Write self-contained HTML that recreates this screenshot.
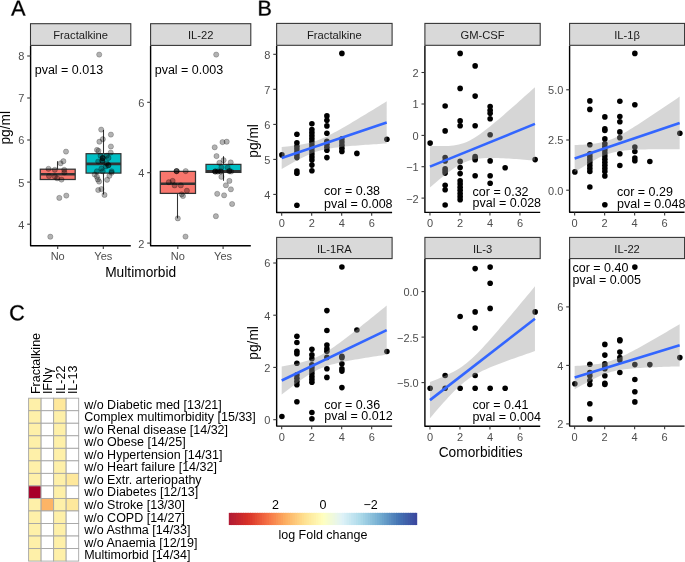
<!DOCTYPE html>
<html><head><meta charset="utf-8"><style>
html,body{margin:0;padding:0;background:#fff;width:685px;height:562px;overflow:hidden;}
svg{display:block;font-family:"Liberation Sans", sans-serif;will-change:transform;}
</style></head><body>
<svg width="685" height="562" viewBox="0 0 685 562" font-family='"Liberation Sans", sans-serif'>
<path d="M23.4 15.5 21.71 11.17H14.97L13.27 15.5H11.19L17.23 0.71H19.51L25.45 15.5ZM18.34 2.22 18.25 2.51Q17.98 3.39 17.47 4.75L15.58 9.61H21.11L19.21 4.73Q18.92 4 18.62 3.09Z" fill="#000" stroke="#000" stroke-width="0.35"/>
<path d="M270.71 11.33Q270.71 13.31 269.27 14.4Q267.83 15.5 265.27 15.5H259.26V0.71H264.64Q269.85 0.71 269.85 4.3Q269.85 5.61 269.11 6.5Q268.38 7.4 267.03 7.7Q268.8 7.91 269.75 8.88Q270.71 9.85 270.71 11.33ZM267.83 4.54Q267.83 3.34 267.01 2.83Q266.19 2.31 264.64 2.31H261.27V7H264.64Q266.24 7 267.04 6.39Q267.83 5.79 267.83 4.54ZM268.68 11.17Q268.68 8.56 265.01 8.56H261.27V13.89H265.16Q267 13.89 267.84 13.21Q268.68 12.53 268.68 11.17Z" fill="#000" stroke="#000" stroke-width="0.35"/>
<path d="M17.51 306.83Q15.06 306.83 13.69 308.41Q12.33 309.99 12.33 312.74Q12.33 315.45 13.75 317.11Q15.17 318.76 17.6 318.76Q20.71 318.76 22.27 315.69L23.91 316.5Q22.99 318.42 21.34 319.41Q19.69 320.41 17.5 320.41Q15.27 320.41 13.64 319.48Q12 318.55 11.15 316.82Q10.29 315.1 10.29 312.74Q10.29 309.2 12.2 307.19Q14.11 305.19 17.49 305.19Q19.86 305.19 21.44 306.11Q23.03 307.04 23.77 308.85L21.87 309.48Q21.36 308.19 20.22 307.51Q19.08 306.83 17.51 306.83Z" fill="#000" stroke="#000" stroke-width="0.35"/>
<rect x="30.5" y="23.7" width="100.3" height="21.7" fill="#d9d9d9" stroke="#333" stroke-width="1.07"/>
<text x="80.65" y="39.2" font-size="11.2" fill="#1a1a1a" text-anchor="middle">Fractalkine</text>
<line x1="57.5" y1="161.2" x2="57.5" y2="169.2" stroke="#333" stroke-width="1.07"/>
<rect x="40.3" y="169.2" width="34.9" height="10.3" fill="#F8766D" stroke="#333" stroke-width="1.25"/>
<line x1="40.3" y1="174.2" x2="75.2" y2="174.2" stroke="#333" stroke-width="2.6"/>
<line x1="103.5" y1="129.9" x2="103.5" y2="153.7" stroke="#333" stroke-width="1.07"/>
<line x1="103.5" y1="173.1" x2="103.5" y2="194.5" stroke="#333" stroke-width="1.07"/>
<rect x="86.1" y="153.7" width="34.8" height="19.4" fill="#00BFC4" stroke="#333" stroke-width="1.25"/>
<line x1="86.1" y1="163.9" x2="120.9" y2="163.9" stroke="#333" stroke-width="2.6"/>
<circle cx="66" cy="151.6" r="2.6" fill="rgba(0,0,0,0.3)" stroke="rgba(0,0,0,0.3)" stroke-width="0.75"/>
<circle cx="63.4" cy="161.2" r="2.6" fill="rgba(0,0,0,0.3)" stroke="rgba(0,0,0,0.3)" stroke-width="0.75"/>
<circle cx="60.6" cy="163.3" r="2.6" fill="rgba(0,0,0,0.3)" stroke="rgba(0,0,0,0.3)" stroke-width="0.75"/>
<circle cx="48.5" cy="168.8" r="2.6" fill="rgba(0,0,0,0.3)" stroke="rgba(0,0,0,0.3)" stroke-width="0.75"/>
<circle cx="54.8" cy="169.8" r="2.6" fill="rgba(0,0,0,0.3)" stroke="rgba(0,0,0,0.3)" stroke-width="0.75"/>
<circle cx="64.2" cy="169.8" r="2.6" fill="rgba(0,0,0,0.3)" stroke="rgba(0,0,0,0.3)" stroke-width="0.75"/>
<circle cx="64.4" cy="172.5" r="2.6" fill="rgba(0,0,0,0.3)" stroke="rgba(0,0,0,0.3)" stroke-width="0.75"/>
<circle cx="49" cy="176" r="2.6" fill="rgba(0,0,0,0.3)" stroke="rgba(0,0,0,0.3)" stroke-width="0.75"/>
<circle cx="54.8" cy="176.5" r="2.6" fill="rgba(0,0,0,0.3)" stroke="rgba(0,0,0,0.3)" stroke-width="0.75"/>
<circle cx="57.2" cy="178.3" r="2.6" fill="rgba(0,0,0,0.3)" stroke="rgba(0,0,0,0.3)" stroke-width="0.75"/>
<circle cx="61.5" cy="179.6" r="2.6" fill="rgba(0,0,0,0.3)" stroke="rgba(0,0,0,0.3)" stroke-width="0.75"/>
<circle cx="59.3" cy="197.9" r="2.6" fill="rgba(0,0,0,0.3)" stroke="rgba(0,0,0,0.3)" stroke-width="0.75"/>
<circle cx="66.3" cy="195.6" r="2.6" fill="rgba(0,0,0,0.3)" stroke="rgba(0,0,0,0.3)" stroke-width="0.75"/>
<circle cx="50.3" cy="236.7" r="2.6" fill="rgba(0,0,0,0.3)" stroke="rgba(0,0,0,0.3)" stroke-width="0.75"/>
<circle cx="99.2" cy="54.6" r="2.6" fill="rgba(0,0,0,0.3)" stroke="rgba(0,0,0,0.3)" stroke-width="0.75"/>
<circle cx="101.2" cy="129.6" r="2.6" fill="rgba(0,0,0,0.3)" stroke="rgba(0,0,0,0.3)" stroke-width="0.75"/>
<circle cx="110.9" cy="134.6" r="2.6" fill="rgba(0,0,0,0.3)" stroke="rgba(0,0,0,0.3)" stroke-width="0.75"/>
<circle cx="102.8" cy="139.2" r="2.6" fill="rgba(0,0,0,0.3)" stroke="rgba(0,0,0,0.3)" stroke-width="0.75"/>
<circle cx="99.4" cy="141.7" r="2.6" fill="rgba(0,0,0,0.3)" stroke="rgba(0,0,0,0.3)" stroke-width="0.75"/>
<circle cx="110.9" cy="146.5" r="2.6" fill="rgba(0,0,0,0.3)" stroke="rgba(0,0,0,0.3)" stroke-width="0.75"/>
<circle cx="97" cy="149.9" r="2.6" fill="rgba(0,0,0,0.3)" stroke="rgba(0,0,0,0.3)" stroke-width="0.75"/>
<circle cx="98.5" cy="150.8" r="2.6" fill="rgba(0,0,0,0.3)" stroke="rgba(0,0,0,0.3)" stroke-width="0.75"/>
<circle cx="110.7" cy="152.6" r="2.6" fill="rgba(0,0,0,0.3)" stroke="rgba(0,0,0,0.3)" stroke-width="0.75"/>
<circle cx="102.7" cy="157.9" r="2.6" fill="rgba(0,0,0,0.3)" stroke="rgba(0,0,0,0.3)" stroke-width="0.75"/>
<circle cx="102.7" cy="157.9" r="2.6" fill="rgba(0,0,0,0.3)" stroke="rgba(0,0,0,0.3)" stroke-width="0.75"/>
<circle cx="102.9" cy="158.3" r="2.6" fill="rgba(0,0,0,0.3)" stroke="rgba(0,0,0,0.3)" stroke-width="0.75"/>
<circle cx="100.5" cy="155.7" r="2.6" fill="rgba(0,0,0,0.3)" stroke="rgba(0,0,0,0.3)" stroke-width="0.75"/>
<circle cx="106.7" cy="155.7" r="2.6" fill="rgba(0,0,0,0.3)" stroke="rgba(0,0,0,0.3)" stroke-width="0.75"/>
<circle cx="108.5" cy="157.9" r="2.6" fill="rgba(0,0,0,0.3)" stroke="rgba(0,0,0,0.3)" stroke-width="0.75"/>
<circle cx="98.2" cy="161.5" r="2.6" fill="rgba(0,0,0,0.3)" stroke="rgba(0,0,0,0.3)" stroke-width="0.75"/>
<circle cx="102.2" cy="160.6" r="2.6" fill="rgba(0,0,0,0.3)" stroke="rgba(0,0,0,0.3)" stroke-width="0.75"/>
<circle cx="102.4" cy="161" r="2.6" fill="rgba(0,0,0,0.3)" stroke="rgba(0,0,0,0.3)" stroke-width="0.75"/>
<circle cx="106.7" cy="163.3" r="2.6" fill="rgba(0,0,0,0.3)" stroke="rgba(0,0,0,0.3)" stroke-width="0.75"/>
<circle cx="108.5" cy="165" r="2.6" fill="rgba(0,0,0,0.3)" stroke="rgba(0,0,0,0.3)" stroke-width="0.75"/>
<circle cx="108.3" cy="165.4" r="2.6" fill="rgba(0,0,0,0.3)" stroke="rgba(0,0,0,0.3)" stroke-width="0.75"/>
<circle cx="105.8" cy="166.4" r="2.6" fill="rgba(0,0,0,0.3)" stroke="rgba(0,0,0,0.3)" stroke-width="0.75"/>
<circle cx="101.4" cy="168.6" r="2.6" fill="rgba(0,0,0,0.3)" stroke="rgba(0,0,0,0.3)" stroke-width="0.75"/>
<circle cx="96.9" cy="171.3" r="2.6" fill="rgba(0,0,0,0.3)" stroke="rgba(0,0,0,0.3)" stroke-width="0.75"/>
<circle cx="111.6" cy="171.3" r="2.6" fill="rgba(0,0,0,0.3)" stroke="rgba(0,0,0,0.3)" stroke-width="0.75"/>
<circle cx="102.7" cy="171.3" r="2.6" fill="rgba(0,0,0,0.3)" stroke="rgba(0,0,0,0.3)" stroke-width="0.75"/>
<circle cx="94.7" cy="174.5" r="2.6" fill="rgba(0,0,0,0.3)" stroke="rgba(0,0,0,0.3)" stroke-width="0.75"/>
<circle cx="96.9" cy="176.7" r="2.6" fill="rgba(0,0,0,0.3)" stroke="rgba(0,0,0,0.3)" stroke-width="0.75"/>
<circle cx="97.8" cy="179.4" r="2.6" fill="rgba(0,0,0,0.3)" stroke="rgba(0,0,0,0.3)" stroke-width="0.75"/>
<circle cx="99.1" cy="181.6" r="2.6" fill="rgba(0,0,0,0.3)" stroke="rgba(0,0,0,0.3)" stroke-width="0.75"/>
<circle cx="111.6" cy="172.7" r="2.6" fill="rgba(0,0,0,0.3)" stroke="rgba(0,0,0,0.3)" stroke-width="0.75"/>
<circle cx="109.4" cy="175.8" r="2.6" fill="rgba(0,0,0,0.3)" stroke="rgba(0,0,0,0.3)" stroke-width="0.75"/>
<circle cx="107.1" cy="179.8" r="2.6" fill="rgba(0,0,0,0.3)" stroke="rgba(0,0,0,0.3)" stroke-width="0.75"/>
<circle cx="98.2" cy="190" r="2.6" fill="rgba(0,0,0,0.3)" stroke="rgba(0,0,0,0.3)" stroke-width="0.75"/>
<circle cx="101.4" cy="189.1" r="2.6" fill="rgba(0,0,0,0.3)" stroke="rgba(0,0,0,0.3)" stroke-width="0.75"/>
<circle cx="104.5" cy="194.9" r="2.6" fill="rgba(0,0,0,0.3)" stroke="rgba(0,0,0,0.3)" stroke-width="0.75"/>
<path d="M30.6 45.9 L30.6 245.8 L130.8 245.8" fill="none" stroke="#000" stroke-width="1.4" stroke-linejoin="round"/>
<line x1="27.2" y1="56" x2="30.6" y2="56" stroke="#333" stroke-width="1.07"/>
<text x="24.4" y="60.4" font-size="11" fill="#4d4d4d" text-anchor="end">8</text>
<line x1="27.2" y1="98" x2="30.6" y2="98" stroke="#333" stroke-width="1.07"/>
<text x="24.4" y="102.4" font-size="11" fill="#4d4d4d" text-anchor="end">7</text>
<line x1="27.2" y1="140" x2="30.6" y2="140" stroke="#333" stroke-width="1.07"/>
<text x="24.4" y="144.4" font-size="11" fill="#4d4d4d" text-anchor="end">6</text>
<line x1="27.2" y1="182.1" x2="30.6" y2="182.1" stroke="#333" stroke-width="1.07"/>
<text x="24.4" y="186.5" font-size="11" fill="#4d4d4d" text-anchor="end">5</text>
<line x1="27.2" y1="224.2" x2="30.6" y2="224.2" stroke="#333" stroke-width="1.07"/>
<text x="24.4" y="228.6" font-size="11" fill="#4d4d4d" text-anchor="end">4</text>
<line x1="57.7" y1="245.8" x2="57.7" y2="249" stroke="#333" stroke-width="1.07"/>
<text x="57.7" y="260.1" font-size="11" fill="#4d4d4d" text-anchor="middle">No</text>
<line x1="103.3" y1="245.8" x2="103.3" y2="249" stroke="#333" stroke-width="1.07"/>
<text x="103.3" y="260.1" font-size="11" fill="#4d4d4d" text-anchor="middle">Yes</text>
<text x="34.7" y="73.5" font-size="12.5" fill="#000" text-anchor="start">pval = 0.013</text>
<rect x="150.6" y="23.7" width="100.2" height="21.7" fill="#d9d9d9" stroke="#333" stroke-width="1.07"/>
<text x="200.7" y="39.2" font-size="11.2" fill="#1a1a1a" text-anchor="middle">IL-22</text>
<line x1="177.5" y1="193.4" x2="177.5" y2="218.4" stroke="#333" stroke-width="1.07"/>
<rect x="160.3" y="171.4" width="35.2" height="22" fill="#F8766D" stroke="#333" stroke-width="1.25"/>
<line x1="160.3" y1="183.8" x2="195.5" y2="183.8" stroke="#333" stroke-width="2.6"/>
<line x1="223.5" y1="156.2" x2="223.5" y2="164.4" stroke="#333" stroke-width="1.07"/>
<line x1="223.5" y1="172.4" x2="223.5" y2="180.8" stroke="#333" stroke-width="1.07"/>
<rect x="206" y="164.4" width="34.9" height="8" fill="#00BFC4" stroke="#333" stroke-width="1.25"/>
<line x1="206" y1="171.3" x2="240.9" y2="171.3" stroke="#333" stroke-width="2.6"/>
<circle cx="176.6" cy="171.1" r="2.6" fill="rgba(0,0,0,0.3)" stroke="rgba(0,0,0,0.3)" stroke-width="0.75"/>
<circle cx="176.6" cy="171.1" r="2.6" fill="rgba(0,0,0,0.3)" stroke="rgba(0,0,0,0.3)" stroke-width="0.75"/>
<circle cx="176.6" cy="171.1" r="2.6" fill="rgba(0,0,0,0.3)" stroke="rgba(0,0,0,0.3)" stroke-width="0.75"/>
<circle cx="185.7" cy="171.1" r="2.6" fill="rgba(0,0,0,0.3)" stroke="rgba(0,0,0,0.3)" stroke-width="0.75"/>
<circle cx="168.8" cy="182.2" r="2.6" fill="rgba(0,0,0,0.3)" stroke="rgba(0,0,0,0.3)" stroke-width="0.75"/>
<circle cx="172.6" cy="180.9" r="2.6" fill="rgba(0,0,0,0.3)" stroke="rgba(0,0,0,0.3)" stroke-width="0.75"/>
<circle cx="174.6" cy="185.4" r="2.6" fill="rgba(0,0,0,0.3)" stroke="rgba(0,0,0,0.3)" stroke-width="0.75"/>
<circle cx="180.8" cy="185.4" r="2.6" fill="rgba(0,0,0,0.3)" stroke="rgba(0,0,0,0.3)" stroke-width="0.75"/>
<circle cx="186.9" cy="190.7" r="2.6" fill="rgba(0,0,0,0.3)" stroke="rgba(0,0,0,0.3)" stroke-width="0.75"/>
<circle cx="181.7" cy="194.3" r="2.6" fill="rgba(0,0,0,0.3)" stroke="rgba(0,0,0,0.3)" stroke-width="0.75"/>
<circle cx="183" cy="196" r="2.6" fill="rgba(0,0,0,0.3)" stroke="rgba(0,0,0,0.3)" stroke-width="0.75"/>
<circle cx="177.8" cy="218.4" r="2.6" fill="rgba(0,0,0,0.3)" stroke="rgba(0,0,0,0.3)" stroke-width="0.75"/>
<circle cx="185.5" cy="236.6" r="2.6" fill="rgba(0,0,0,0.3)" stroke="rgba(0,0,0,0.3)" stroke-width="0.75"/>
<circle cx="216.2" cy="54.6" r="2.6" fill="rgba(0,0,0,0.3)" stroke="rgba(0,0,0,0.3)" stroke-width="0.75"/>
<circle cx="222.5" cy="142.1" r="2.6" fill="rgba(0,0,0,0.3)" stroke="rgba(0,0,0,0.3)" stroke-width="0.75"/>
<circle cx="226.7" cy="141.7" r="2.6" fill="rgba(0,0,0,0.3)" stroke="rgba(0,0,0,0.3)" stroke-width="0.75"/>
<circle cx="214.7" cy="147.3" r="2.6" fill="rgba(0,0,0,0.3)" stroke="rgba(0,0,0,0.3)" stroke-width="0.75"/>
<circle cx="216.5" cy="156.1" r="2.6" fill="rgba(0,0,0,0.3)" stroke="rgba(0,0,0,0.3)" stroke-width="0.75"/>
<circle cx="223.6" cy="160.2" r="2.6" fill="rgba(0,0,0,0.3)" stroke="rgba(0,0,0,0.3)" stroke-width="0.75"/>
<circle cx="219.4" cy="162.8" r="2.6" fill="rgba(0,0,0,0.3)" stroke="rgba(0,0,0,0.3)" stroke-width="0.75"/>
<circle cx="230.7" cy="162.4" r="2.6" fill="rgba(0,0,0,0.3)" stroke="rgba(0,0,0,0.3)" stroke-width="0.75"/>
<circle cx="221.4" cy="167.5" r="2.6" fill="rgba(0,0,0,0.3)" stroke="rgba(0,0,0,0.3)" stroke-width="0.75"/>
<circle cx="227.6" cy="167.5" r="2.6" fill="rgba(0,0,0,0.3)" stroke="rgba(0,0,0,0.3)" stroke-width="0.75"/>
<circle cx="215.2" cy="171.5" r="2.6" fill="rgba(0,0,0,0.3)" stroke="rgba(0,0,0,0.3)" stroke-width="0.75"/>
<circle cx="215.2" cy="171.5" r="2.6" fill="rgba(0,0,0,0.3)" stroke="rgba(0,0,0,0.3)" stroke-width="0.75"/>
<circle cx="215.2" cy="171.5" r="2.6" fill="rgba(0,0,0,0.3)" stroke="rgba(0,0,0,0.3)" stroke-width="0.75"/>
<circle cx="217.8" cy="171.5" r="2.6" fill="rgba(0,0,0,0.3)" stroke="rgba(0,0,0,0.3)" stroke-width="0.75"/>
<circle cx="217.8" cy="171.5" r="2.6" fill="rgba(0,0,0,0.3)" stroke="rgba(0,0,0,0.3)" stroke-width="0.75"/>
<circle cx="220.8" cy="171.5" r="2.6" fill="rgba(0,0,0,0.3)" stroke="rgba(0,0,0,0.3)" stroke-width="0.75"/>
<circle cx="220.8" cy="171.5" r="2.6" fill="rgba(0,0,0,0.3)" stroke="rgba(0,0,0,0.3)" stroke-width="0.75"/>
<circle cx="229.4" cy="171.1" r="2.6" fill="rgba(0,0,0,0.3)" stroke="rgba(0,0,0,0.3)" stroke-width="0.75"/>
<circle cx="229.4" cy="171.1" r="2.6" fill="rgba(0,0,0,0.3)" stroke="rgba(0,0,0,0.3)" stroke-width="0.75"/>
<circle cx="231.2" cy="171.5" r="2.6" fill="rgba(0,0,0,0.3)" stroke="rgba(0,0,0,0.3)" stroke-width="0.75"/>
<circle cx="221.4" cy="176.8" r="2.6" fill="rgba(0,0,0,0.3)" stroke="rgba(0,0,0,0.3)" stroke-width="0.75"/>
<circle cx="229.4" cy="180.9" r="2.6" fill="rgba(0,0,0,0.3)" stroke="rgba(0,0,0,0.3)" stroke-width="0.75"/>
<circle cx="225.9" cy="185.3" r="2.6" fill="rgba(0,0,0,0.3)" stroke="rgba(0,0,0,0.3)" stroke-width="0.75"/>
<circle cx="230.9" cy="189.3" r="2.6" fill="rgba(0,0,0,0.3)" stroke="rgba(0,0,0,0.3)" stroke-width="0.75"/>
<circle cx="217.2" cy="193.8" r="2.6" fill="rgba(0,0,0,0.3)" stroke="rgba(0,0,0,0.3)" stroke-width="0.75"/>
<circle cx="224.1" cy="195.3" r="2.6" fill="rgba(0,0,0,0.3)" stroke="rgba(0,0,0,0.3)" stroke-width="0.75"/>
<circle cx="232.1" cy="204" r="2.6" fill="rgba(0,0,0,0.3)" stroke="rgba(0,0,0,0.3)" stroke-width="0.75"/>
<circle cx="215.9" cy="216.2" r="2.6" fill="rgba(0,0,0,0.3)" stroke="rgba(0,0,0,0.3)" stroke-width="0.75"/>
<path d="M150.6 45.9 L150.6 245.8 L250.8 245.8" fill="none" stroke="#000" stroke-width="1.4" stroke-linejoin="round"/>
<line x1="147.2" y1="102.3" x2="150.6" y2="102.3" stroke="#333" stroke-width="1.07"/>
<text x="144.4" y="106.7" font-size="11" fill="#4d4d4d" text-anchor="end">6</text>
<line x1="147.2" y1="172.7" x2="150.6" y2="172.7" stroke="#333" stroke-width="1.07"/>
<text x="144.4" y="177.1" font-size="11" fill="#4d4d4d" text-anchor="end">4</text>
<line x1="147.2" y1="243.1" x2="150.6" y2="243.1" stroke="#333" stroke-width="1.07"/>
<text x="144.4" y="247.5" font-size="11" fill="#4d4d4d" text-anchor="end">2</text>
<line x1="177.8" y1="245.8" x2="177.8" y2="249" stroke="#333" stroke-width="1.07"/>
<text x="177.8" y="260.1" font-size="11" fill="#4d4d4d" text-anchor="middle">No</text>
<line x1="223.1" y1="245.8" x2="223.1" y2="249" stroke="#333" stroke-width="1.07"/>
<text x="223.1" y="260.1" font-size="11" fill="#4d4d4d" text-anchor="middle">Yes</text>
<text x="154.7" y="73.5" font-size="12.5" fill="#000" text-anchor="start">pval = 0.003</text>
<text x="140.7" y="276.6" font-size="13.75" fill="#000" text-anchor="middle">Multimorbid</text>
<text x="10" y="127.8" font-size="13.75" fill="#000" text-anchor="middle" transform="rotate(-90 10 127.8)">pg/ml</text>
<circle cx="281.9" cy="154.9" r="2.8" fill="#000"/>
<circle cx="296.9" cy="134.2" r="2.8" fill="#000"/>
<circle cx="296.9" cy="142.7" r="2.8" fill="#000"/>
<circle cx="296.9" cy="146.3" r="2.8" fill="#000"/>
<circle cx="296.9" cy="149.12" r="2.8" fill="#000"/>
<circle cx="296.9" cy="151.95" r="2.8" fill="#000"/>
<circle cx="296.9" cy="154.78" r="2.8" fill="#000"/>
<circle cx="296.9" cy="157.6" r="2.8" fill="#000"/>
<circle cx="296.9" cy="171.1" r="2.8" fill="#000"/>
<circle cx="296.9" cy="173.3" r="2.8" fill="#000"/>
<circle cx="296.9" cy="205.3" r="2.8" fill="#000"/>
<circle cx="311.9" cy="123.7" r="2.8" fill="#000"/>
<circle cx="311.9" cy="129.6" r="2.8" fill="#000"/>
<circle cx="311.9" cy="132.65" r="2.8" fill="#000"/>
<circle cx="311.9" cy="135.7" r="2.8" fill="#000"/>
<circle cx="311.9" cy="138.75" r="2.8" fill="#000"/>
<circle cx="311.9" cy="141.8" r="2.8" fill="#000"/>
<circle cx="311.9" cy="144.85" r="2.8" fill="#000"/>
<circle cx="311.9" cy="147.9" r="2.8" fill="#000"/>
<circle cx="311.9" cy="150.95" r="2.8" fill="#000"/>
<circle cx="311.9" cy="154" r="2.8" fill="#000"/>
<circle cx="311.9" cy="157.05" r="2.8" fill="#000"/>
<circle cx="311.9" cy="160.1" r="2.8" fill="#000"/>
<circle cx="311.9" cy="165.1" r="2.8" fill="#000"/>
<circle cx="311.9" cy="170.7" r="2.8" fill="#000"/>
<circle cx="326.9" cy="115.9" r="2.8" fill="#000"/>
<circle cx="326.9" cy="120.3" r="2.8" fill="#000"/>
<circle cx="326.9" cy="125.9" r="2.8" fill="#000"/>
<circle cx="326.9" cy="133.3" r="2.8" fill="#000"/>
<circle cx="326.9" cy="141.3" r="2.8" fill="#000"/>
<circle cx="326.9" cy="144.3" r="2.8" fill="#000"/>
<circle cx="326.9" cy="147.3" r="2.8" fill="#000"/>
<circle cx="326.9" cy="150.3" r="2.8" fill="#000"/>
<circle cx="326.9" cy="157.6" r="2.8" fill="#000"/>
<circle cx="341.9" cy="53.4" r="2.8" fill="#000"/>
<circle cx="341.9" cy="138.9" r="2.8" fill="#000"/>
<circle cx="341.9" cy="142.03" r="2.8" fill="#000"/>
<circle cx="341.9" cy="145.15" r="2.8" fill="#000"/>
<circle cx="341.9" cy="148.28" r="2.8" fill="#000"/>
<circle cx="341.9" cy="151.4" r="2.8" fill="#000"/>
<circle cx="356.9" cy="153.4" r="2.8" fill="#000"/>
<circle cx="386.9" cy="139.3" r="2.8" fill="#000"/>
<path d="M281.7 146.9 L284.32 146.66 L286.95 146.4 L289.57 146.13 L292.2 145.83 L294.82 145.51 L297.45 145.16 L300.07 144.77 L302.7 144.32 L305.32 143.82 L307.95 143.25 L310.57 142.6 L313.2 141.85 L315.82 141 L318.45 140.05 L321.07 139 L323.7 137.86 L326.32 136.63 L328.95 135.34 L331.57 133.99 L334.2 132.6 L336.82 131.16 L339.45 129.7 L342.07 128.21 L344.7 126.7 L347.32 125.17 L349.95 123.63 L352.57 122.08 L355.2 120.52 L357.82 118.95 L360.45 117.37 L363.07 115.78 L365.7 114.19 L368.32 112.6 L370.95 111 L373.57 109.4 L376.2 107.79 L378.82 106.19 L381.45 104.58 L384.07 102.96 L386.7 101.35 L386.7 143.45 L384.07 143.62 L381.45 143.78 L378.82 143.95 L376.2 144.13 L373.57 144.3 L370.95 144.48 L368.32 144.66 L365.7 144.85 L363.07 145.04 L360.45 145.23 L357.82 145.43 L355.2 145.64 L352.57 145.86 L349.95 146.09 L347.32 146.33 L344.7 146.58 L342.07 146.85 L339.45 147.14 L336.82 147.46 L334.2 147.8 L331.57 148.19 L328.95 148.62 L326.32 149.11 L323.7 149.66 L321.07 150.3 L318.45 151.03 L315.82 151.86 L313.2 152.79 L310.57 153.82 L307.95 154.95 L305.32 156.16 L302.7 157.44 L300.07 158.77 L297.45 160.16 L294.82 161.59 L292.2 163.05 L289.57 164.53 L286.95 166.04 L284.32 167.56 L281.7 169.1 Z" fill="#999999" fill-opacity="0.4"/>
<line x1="281.7" y1="158" x2="386.7" y2="122.4" stroke="#3366FF" stroke-width="2.6"/>
<path d="M276.65 45.8 L276.65 212.5 L392.1 212.5" fill="none" stroke="#000" stroke-width="1.4" stroke-linejoin="round"/>
<rect x="276.65" y="23.4" width="115.45" height="21.9" fill="#d9d9d9" stroke="#333" stroke-width="1.07"/>
<text x="334.38" y="38.9" font-size="11.2" fill="#1a1a1a" text-anchor="middle">Fractalkine</text>
<line x1="273.25" y1="54.3" x2="276.65" y2="54.3" stroke="#333" stroke-width="1.07"/>
<text x="270.45" y="58.7" font-size="11" fill="#4d4d4d" text-anchor="end">8</text>
<line x1="273.25" y1="89.3" x2="276.65" y2="89.3" stroke="#333" stroke-width="1.07"/>
<text x="270.45" y="93.7" font-size="11" fill="#4d4d4d" text-anchor="end">7</text>
<line x1="273.25" y1="124.4" x2="276.65" y2="124.4" stroke="#333" stroke-width="1.07"/>
<text x="270.45" y="128.8" font-size="11" fill="#4d4d4d" text-anchor="end">6</text>
<line x1="273.25" y1="159.4" x2="276.65" y2="159.4" stroke="#333" stroke-width="1.07"/>
<text x="270.45" y="163.8" font-size="11" fill="#4d4d4d" text-anchor="end">5</text>
<line x1="273.25" y1="194.4" x2="276.65" y2="194.4" stroke="#333" stroke-width="1.07"/>
<text x="270.45" y="198.8" font-size="11" fill="#4d4d4d" text-anchor="end">4</text>
<line x1="281.7" y1="212.5" x2="281.7" y2="215.7" stroke="#333" stroke-width="1.07"/>
<text x="281.7" y="226.9" font-size="11" fill="#4d4d4d" text-anchor="middle">0</text>
<line x1="311.7" y1="212.5" x2="311.7" y2="215.7" stroke="#333" stroke-width="1.07"/>
<text x="311.7" y="226.9" font-size="11" fill="#4d4d4d" text-anchor="middle">2</text>
<line x1="341.7" y1="212.5" x2="341.7" y2="215.7" stroke="#333" stroke-width="1.07"/>
<text x="341.7" y="226.9" font-size="11" fill="#4d4d4d" text-anchor="middle">4</text>
<line x1="371.7" y1="212.5" x2="371.7" y2="215.7" stroke="#333" stroke-width="1.07"/>
<text x="371.7" y="226.9" font-size="11" fill="#4d4d4d" text-anchor="middle">6</text>
<text x="324.1" y="195.4" font-size="12.5" fill="#000" text-anchor="start">cor = 0.38</text>
<text x="324.1" y="207.5" font-size="12.5" fill="#000" text-anchor="start">pval = 0.008</text>
<circle cx="430.15" cy="143.1" r="2.8" fill="#000"/>
<circle cx="445.15" cy="106" r="2.8" fill="#000"/>
<circle cx="445.15" cy="130.9" r="2.8" fill="#000"/>
<circle cx="445.15" cy="157.6" r="2.8" fill="#000"/>
<circle cx="445.15" cy="160.9" r="2.8" fill="#000"/>
<circle cx="445.15" cy="168.7" r="2.8" fill="#000"/>
<circle cx="445.15" cy="170.9" r="2.8" fill="#000"/>
<circle cx="445.15" cy="173.1" r="2.8" fill="#000"/>
<circle cx="445.15" cy="185.3" r="2.8" fill="#000"/>
<circle cx="445.15" cy="189.8" r="2.8" fill="#000"/>
<circle cx="445.15" cy="205" r="2.8" fill="#000"/>
<circle cx="460.15" cy="53.4" r="2.8" fill="#000"/>
<circle cx="460.15" cy="88.4" r="2.8" fill="#000"/>
<circle cx="460.15" cy="120.9" r="2.8" fill="#000"/>
<circle cx="460.15" cy="125.8" r="2.8" fill="#000"/>
<circle cx="460.15" cy="161.4" r="2.8" fill="#000"/>
<circle cx="460.15" cy="167.6" r="2.8" fill="#000"/>
<circle cx="460.15" cy="173.6" r="2.8" fill="#000"/>
<circle cx="460.15" cy="180.9" r="2.8" fill="#000"/>
<circle cx="460.15" cy="184.05" r="2.8" fill="#000"/>
<circle cx="460.15" cy="187.2" r="2.8" fill="#000"/>
<circle cx="460.15" cy="190.35" r="2.8" fill="#000"/>
<circle cx="460.15" cy="193.5" r="2.8" fill="#000"/>
<circle cx="460.15" cy="196.65" r="2.8" fill="#000"/>
<circle cx="460.15" cy="199.8" r="2.8" fill="#000"/>
<circle cx="475.15" cy="65.9" r="2.8" fill="#000"/>
<circle cx="475.15" cy="96.1" r="2.8" fill="#000"/>
<circle cx="475.15" cy="125.8" r="2.8" fill="#000"/>
<circle cx="475.15" cy="156.5" r="2.8" fill="#000"/>
<circle cx="475.15" cy="158.3" r="2.8" fill="#000"/>
<circle cx="475.15" cy="159.8" r="2.8" fill="#000"/>
<circle cx="475.15" cy="175.8" r="2.8" fill="#000"/>
<circle cx="490.15" cy="106.5" r="2.8" fill="#000"/>
<circle cx="490.15" cy="110.3" r="2.8" fill="#000"/>
<circle cx="490.15" cy="113.3" r="2.8" fill="#000"/>
<circle cx="490.15" cy="118.8" r="2.8" fill="#000"/>
<circle cx="490.15" cy="134.7" r="2.8" fill="#000"/>
<circle cx="490.15" cy="160.9" r="2.8" fill="#000"/>
<circle cx="490.15" cy="175.8" r="2.8" fill="#000"/>
<circle cx="490.15" cy="183.2" r="2.8" fill="#000"/>
<circle cx="505.15" cy="167.8" r="2.8" fill="#000"/>
<circle cx="535.15" cy="159.6" r="2.8" fill="#000"/>
<path d="M429.95 145.8 L432.57 145.91 L435.2 146 L437.82 146.06 L440.45 146.09 L443.07 146.08 L445.7 146.02 L448.32 145.9 L450.95 145.7 L453.57 145.42 L456.2 145.02 L458.82 144.49 L461.45 143.81 L464.07 142.96 L466.7 141.93 L469.32 140.71 L471.95 139.31 L474.57 137.76 L477.2 136.06 L479.82 134.25 L482.45 132.34 L485.07 130.35 L487.7 128.29 L490.32 126.19 L492.95 124.04 L495.57 121.85 L498.2 119.64 L500.82 117.4 L503.45 115.14 L506.07 112.86 L508.7 110.57 L511.32 108.27 L513.95 105.96 L516.58 103.64 L519.2 101.31 L521.83 98.97 L524.45 96.62 L527.08 94.27 L529.7 91.92 L532.33 89.56 L534.95 87.2 L534.95 160.6 L532.33 160.37 L529.7 160.15 L527.08 159.93 L524.45 159.72 L521.83 159.51 L519.2 159.3 L516.58 159.11 L513.95 158.92 L511.32 158.74 L508.7 158.58 L506.07 158.42 L503.45 158.28 L500.82 158.16 L498.2 158.05 L495.57 157.97 L492.95 157.92 L490.32 157.91 L487.7 157.94 L485.07 158.02 L482.45 158.16 L479.82 158.39 L477.2 158.71 L474.57 159.15 L471.95 159.73 L469.32 160.47 L466.7 161.38 L464.07 162.48 L461.45 163.77 L458.82 165.22 L456.2 166.83 L453.57 168.57 L450.95 170.42 L448.32 172.36 L445.7 174.37 L443.07 176.45 L440.45 178.57 L437.82 180.73 L435.2 182.93 L432.57 185.15 L429.95 187.4 Z" fill="#999999" fill-opacity="0.4"/>
<line x1="429.95" y1="166.6" x2="534.95" y2="123.9" stroke="#3366FF" stroke-width="2.6"/>
<path d="M424.9 45.8 L424.9 212.4 L540.2 212.4" fill="none" stroke="#000" stroke-width="1.4" stroke-linejoin="round"/>
<rect x="424.9" y="23.4" width="115.3" height="21.9" fill="#d9d9d9" stroke="#333" stroke-width="1.07"/>
<text x="482.55" y="38.9" font-size="11.2" fill="#1a1a1a" text-anchor="middle">GM-CSF</text>
<line x1="421.5" y1="72.5" x2="424.9" y2="72.5" stroke="#333" stroke-width="1.07"/>
<text x="418.7" y="76.9" font-size="11" fill="#4d4d4d" text-anchor="end">2</text>
<line x1="421.5" y1="104" x2="424.9" y2="104" stroke="#333" stroke-width="1.07"/>
<text x="418.7" y="108.4" font-size="11" fill="#4d4d4d" text-anchor="end">1</text>
<line x1="421.5" y1="135.4" x2="424.9" y2="135.4" stroke="#333" stroke-width="1.07"/>
<text x="418.7" y="139.8" font-size="11" fill="#4d4d4d" text-anchor="end">0</text>
<line x1="421.5" y1="166.7" x2="424.9" y2="166.7" stroke="#333" stroke-width="1.07"/>
<text x="418.7" y="171.1" font-size="11" fill="#4d4d4d" text-anchor="end">−1</text>
<line x1="421.5" y1="198.1" x2="424.9" y2="198.1" stroke="#333" stroke-width="1.07"/>
<text x="418.7" y="202.5" font-size="11" fill="#4d4d4d" text-anchor="end">−2</text>
<line x1="429.95" y1="212.4" x2="429.95" y2="215.6" stroke="#333" stroke-width="1.07"/>
<text x="429.95" y="226.9" font-size="11" fill="#4d4d4d" text-anchor="middle">0</text>
<line x1="459.95" y1="212.4" x2="459.95" y2="215.6" stroke="#333" stroke-width="1.07"/>
<text x="459.95" y="226.9" font-size="11" fill="#4d4d4d" text-anchor="middle">2</text>
<line x1="489.95" y1="212.4" x2="489.95" y2="215.6" stroke="#333" stroke-width="1.07"/>
<text x="489.95" y="226.9" font-size="11" fill="#4d4d4d" text-anchor="middle">4</text>
<line x1="519.95" y1="212.4" x2="519.95" y2="215.6" stroke="#333" stroke-width="1.07"/>
<text x="519.95" y="226.9" font-size="11" fill="#4d4d4d" text-anchor="middle">6</text>
<text x="472.6" y="195.6" font-size="12.5" fill="#000" text-anchor="start">cor = 0.32</text>
<text x="472.6" y="207.2" font-size="12.5" fill="#000" text-anchor="start">pval = 0.028</text>
<circle cx="574.85" cy="171.9" r="2.8" fill="#000"/>
<circle cx="589.85" cy="100.9" r="2.8" fill="#000"/>
<circle cx="589.85" cy="109.4" r="2.8" fill="#000"/>
<circle cx="589.85" cy="144.8" r="2.8" fill="#000"/>
<circle cx="589.85" cy="153.7" r="2.8" fill="#000"/>
<circle cx="589.85" cy="156.67" r="2.8" fill="#000"/>
<circle cx="589.85" cy="159.63" r="2.8" fill="#000"/>
<circle cx="589.85" cy="162.6" r="2.8" fill="#000"/>
<circle cx="589.85" cy="165.57" r="2.8" fill="#000"/>
<circle cx="589.85" cy="168.53" r="2.8" fill="#000"/>
<circle cx="589.85" cy="171.5" r="2.8" fill="#000"/>
<circle cx="589.85" cy="187" r="2.8" fill="#000"/>
<circle cx="604.85" cy="116.9" r="2.8" fill="#000"/>
<circle cx="604.85" cy="128.9" r="2.8" fill="#000"/>
<circle cx="604.85" cy="130.5" r="2.8" fill="#000"/>
<circle cx="604.85" cy="138.9" r="2.8" fill="#000"/>
<circle cx="604.85" cy="143.7" r="2.8" fill="#000"/>
<circle cx="604.85" cy="146.79" r="2.8" fill="#000"/>
<circle cx="604.85" cy="149.88" r="2.8" fill="#000"/>
<circle cx="604.85" cy="152.97" r="2.8" fill="#000"/>
<circle cx="604.85" cy="156.06" r="2.8" fill="#000"/>
<circle cx="604.85" cy="159.14" r="2.8" fill="#000"/>
<circle cx="604.85" cy="162.23" r="2.8" fill="#000"/>
<circle cx="604.85" cy="165.32" r="2.8" fill="#000"/>
<circle cx="604.85" cy="168.41" r="2.8" fill="#000"/>
<circle cx="604.85" cy="171.5" r="2.8" fill="#000"/>
<circle cx="604.85" cy="175.9" r="2.8" fill="#000"/>
<circle cx="604.85" cy="204.8" r="2.8" fill="#000"/>
<circle cx="619.85" cy="101.2" r="2.8" fill="#000"/>
<circle cx="619.85" cy="116.5" r="2.8" fill="#000"/>
<circle cx="619.85" cy="121.8" r="2.8" fill="#000"/>
<circle cx="619.85" cy="131.9" r="2.8" fill="#000"/>
<circle cx="619.85" cy="137.8" r="2.8" fill="#000"/>
<circle cx="619.85" cy="153.7" r="2.8" fill="#000"/>
<circle cx="619.85" cy="165.5" r="2.8" fill="#000"/>
<circle cx="634.85" cy="53.4" r="2.8" fill="#000"/>
<circle cx="634.85" cy="104.8" r="2.8" fill="#000"/>
<circle cx="634.85" cy="147" r="2.8" fill="#000"/>
<circle cx="634.85" cy="151.5" r="2.8" fill="#000"/>
<circle cx="634.85" cy="158.1" r="2.8" fill="#000"/>
<circle cx="634.85" cy="160.8" r="2.8" fill="#000"/>
<circle cx="649.85" cy="161.5" r="2.8" fill="#000"/>
<circle cx="679.85" cy="133.3" r="2.8" fill="#000"/>
<path d="M574.65 145 L577.27 144.91 L579.9 144.8 L582.52 144.66 L585.15 144.5 L587.77 144.31 L590.4 144.07 L593.02 143.79 L595.65 143.44 L598.27 143.01 L600.9 142.49 L603.52 141.87 L606.15 141.13 L608.77 140.26 L611.4 139.27 L614.02 138.15 L616.65 136.92 L619.27 135.59 L621.9 134.19 L624.52 132.71 L627.15 131.18 L629.77 129.61 L632.4 127.99 L635.02 126.35 L637.65 124.69 L640.27 123 L642.9 121.3 L645.52 119.58 L648.15 117.85 L650.77 116.11 L653.4 114.36 L656.02 112.61 L658.65 110.85 L661.27 109.08 L663.9 107.31 L666.52 105.53 L669.15 103.75 L671.77 101.97 L674.4 100.18 L677.02 98.39 L679.65 96.6 L679.65 149.2 L677.02 149.19 L674.4 149.19 L671.77 149.19 L669.15 149.19 L666.52 149.19 L663.9 149.2 L661.27 149.22 L658.65 149.23 L656.02 149.26 L653.4 149.29 L650.77 149.32 L648.15 149.37 L645.52 149.43 L642.9 149.49 L640.27 149.58 L637.65 149.67 L635.02 149.79 L632.4 149.94 L629.77 150.11 L627.15 150.32 L624.52 150.57 L621.9 150.88 L619.27 151.26 L616.65 151.72 L614.02 152.28 L611.4 152.94 L608.77 153.73 L606.15 154.65 L603.52 155.69 L600.9 156.86 L598.27 158.12 L595.65 159.48 L593.02 160.92 L590.4 162.42 L587.77 163.97 L585.15 165.56 L582.52 167.18 L579.9 168.83 L577.27 170.51 L574.65 172.2 Z" fill="#999999" fill-opacity="0.4"/>
<line x1="574.65" y1="158.6" x2="679.65" y2="122.9" stroke="#3366FF" stroke-width="2.6"/>
<path d="M569.6 45.8 L569.6 212.3 L684.6 212.3" fill="none" stroke="#000" stroke-width="1.4" stroke-linejoin="round"/>
<rect x="569.6" y="23.4" width="115" height="21.9" fill="#d9d9d9" stroke="#333" stroke-width="1.07"/>
<text x="627.1" y="38.9" font-size="11.2" fill="#1a1a1a" text-anchor="middle">IL-1β</text>
<line x1="566.2" y1="89.8" x2="569.6" y2="89.8" stroke="#333" stroke-width="1.07"/>
<text x="563.4" y="94.2" font-size="11" fill="#4d4d4d" text-anchor="end">5.0</text>
<line x1="566.2" y1="140" x2="569.6" y2="140" stroke="#333" stroke-width="1.07"/>
<text x="563.4" y="144.4" font-size="11" fill="#4d4d4d" text-anchor="end">2.5</text>
<line x1="566.2" y1="190.2" x2="569.6" y2="190.2" stroke="#333" stroke-width="1.07"/>
<text x="563.4" y="194.6" font-size="11" fill="#4d4d4d" text-anchor="end">0.0</text>
<line x1="574.65" y1="212.3" x2="574.65" y2="215.5" stroke="#333" stroke-width="1.07"/>
<text x="574.65" y="226.9" font-size="11" fill="#4d4d4d" text-anchor="middle">0</text>
<line x1="604.65" y1="212.3" x2="604.65" y2="215.5" stroke="#333" stroke-width="1.07"/>
<text x="604.65" y="226.9" font-size="11" fill="#4d4d4d" text-anchor="middle">2</text>
<line x1="634.65" y1="212.3" x2="634.65" y2="215.5" stroke="#333" stroke-width="1.07"/>
<text x="634.65" y="226.9" font-size="11" fill="#4d4d4d" text-anchor="middle">4</text>
<line x1="664.65" y1="212.3" x2="664.65" y2="215.5" stroke="#333" stroke-width="1.07"/>
<text x="664.65" y="226.9" font-size="11" fill="#4d4d4d" text-anchor="middle">6</text>
<text x="617" y="195.6" font-size="12.5" fill="#000" text-anchor="start">cor = 0.29</text>
<text x="617" y="207.6" font-size="12.5" fill="#000" text-anchor="start">pval = 0.048</text>
<circle cx="281.9" cy="416.5" r="2.8" fill="#000"/>
<circle cx="296.9" cy="336.3" r="2.8" fill="#000"/>
<circle cx="296.9" cy="342.5" r="2.8" fill="#000"/>
<circle cx="296.9" cy="351.2" r="2.8" fill="#000"/>
<circle cx="296.9" cy="353.7" r="2.8" fill="#000"/>
<circle cx="296.9" cy="363.2" r="2.8" fill="#000"/>
<circle cx="296.9" cy="374.9" r="2.8" fill="#000"/>
<circle cx="296.9" cy="378.2" r="2.8" fill="#000"/>
<circle cx="296.9" cy="381.5" r="2.8" fill="#000"/>
<circle cx="296.9" cy="384.8" r="2.8" fill="#000"/>
<circle cx="296.9" cy="401.8" r="2.8" fill="#000"/>
<circle cx="311.9" cy="349.2" r="2.8" fill="#000"/>
<circle cx="311.9" cy="354.9" r="2.8" fill="#000"/>
<circle cx="311.9" cy="358.7" r="2.8" fill="#000"/>
<circle cx="311.9" cy="364.9" r="2.8" fill="#000"/>
<circle cx="311.9" cy="367.8" r="2.8" fill="#000"/>
<circle cx="311.9" cy="370.7" r="2.8" fill="#000"/>
<circle cx="311.9" cy="373.6" r="2.8" fill="#000"/>
<circle cx="311.9" cy="376.5" r="2.8" fill="#000"/>
<circle cx="311.9" cy="379.4" r="2.8" fill="#000"/>
<circle cx="311.9" cy="382.3" r="2.8" fill="#000"/>
<circle cx="311.9" cy="412.5" r="2.8" fill="#000"/>
<circle cx="311.9" cy="418.7" r="2.8" fill="#000"/>
<circle cx="326.9" cy="310.6" r="2.8" fill="#000"/>
<circle cx="326.9" cy="330.5" r="2.8" fill="#000"/>
<circle cx="326.9" cy="345" r="2.8" fill="#000"/>
<circle cx="326.9" cy="348.7" r="2.8" fill="#000"/>
<circle cx="326.9" cy="351.2" r="2.8" fill="#000"/>
<circle cx="326.9" cy="357.4" r="2.8" fill="#000"/>
<circle cx="326.9" cy="368.7" r="2.8" fill="#000"/>
<circle cx="326.9" cy="377.4" r="2.8" fill="#000"/>
<circle cx="341.9" cy="267" r="2.8" fill="#000"/>
<circle cx="341.9" cy="356.3" r="2.8" fill="#000"/>
<circle cx="341.9" cy="357.8" r="2.8" fill="#000"/>
<circle cx="341.9" cy="363.7" r="2.8" fill="#000"/>
<circle cx="341.9" cy="368.7" r="2.8" fill="#000"/>
<circle cx="341.9" cy="371.1" r="2.8" fill="#000"/>
<circle cx="341.9" cy="387.6" r="2.8" fill="#000"/>
<circle cx="356.9" cy="330" r="2.8" fill="#000"/>
<circle cx="386.9" cy="351.5" r="2.8" fill="#000"/>
<path d="M281.7 366.5 L284.32 366.03 L286.95 365.55 L289.57 365.04 L292.2 364.52 L294.82 363.97 L297.45 363.39 L300.07 362.77 L302.7 362.09 L305.32 361.36 L307.95 360.56 L310.57 359.67 L313.2 358.68 L315.82 357.58 L318.45 356.35 L321.07 355 L323.7 353.53 L326.32 351.95 L328.95 350.28 L331.57 348.53 L334.2 346.71 L336.82 344.83 L339.45 342.92 L342.07 340.96 L344.7 338.98 L347.32 336.97 L349.95 334.95 L352.57 332.9 L355.2 330.85 L357.82 328.78 L360.45 326.7 L363.07 324.61 L365.7 322.52 L368.32 320.42 L370.95 318.31 L373.57 316.2 L376.2 314.09 L378.82 311.97 L381.45 309.85 L384.07 307.73 L386.7 305.6 L386.7 354.6 L384.07 354.99 L381.45 355.39 L378.82 355.79 L376.2 356.19 L373.57 356.6 L370.95 357.01 L368.32 357.42 L365.7 357.84 L363.07 358.27 L360.45 358.7 L357.82 359.14 L355.2 359.59 L352.57 360.06 L349.95 360.53 L347.32 361.03 L344.7 361.54 L342.07 362.08 L339.45 362.64 L336.82 363.25 L334.2 363.89 L331.57 364.59 L328.95 365.36 L326.32 366.21 L323.7 367.15 L321.07 368.2 L318.45 369.37 L315.82 370.66 L313.2 372.08 L310.57 373.61 L307.95 375.24 L305.32 376.96 L302.7 378.75 L300.07 380.59 L297.45 382.49 L294.82 384.43 L292.2 386.4 L289.57 388.4 L286.95 390.41 L284.32 392.45 L281.7 394.5 Z" fill="#999999" fill-opacity="0.4"/>
<line x1="281.7" y1="380.5" x2="386.7" y2="330.1" stroke="#3366FF" stroke-width="2.6"/>
<path d="M276.65 259.1 L276.65 426.1 L392.1 426.1" fill="none" stroke="#000" stroke-width="1.4" stroke-linejoin="round"/>
<rect x="276.65" y="237.4" width="115.45" height="21.2" fill="#d9d9d9" stroke="#333" stroke-width="1.07"/>
<text x="334.38" y="252.9" font-size="11.2" fill="#1a1a1a" text-anchor="middle">IL-1RA</text>
<line x1="273.25" y1="263" x2="276.65" y2="263" stroke="#333" stroke-width="1.07"/>
<text x="270.45" y="267.4" font-size="11" fill="#4d4d4d" text-anchor="end">6</text>
<line x1="273.25" y1="315.2" x2="276.65" y2="315.2" stroke="#333" stroke-width="1.07"/>
<text x="270.45" y="319.6" font-size="11" fill="#4d4d4d" text-anchor="end">4</text>
<line x1="273.25" y1="367.4" x2="276.65" y2="367.4" stroke="#333" stroke-width="1.07"/>
<text x="270.45" y="371.8" font-size="11" fill="#4d4d4d" text-anchor="end">2</text>
<line x1="273.25" y1="419.7" x2="276.65" y2="419.7" stroke="#333" stroke-width="1.07"/>
<text x="270.45" y="424.1" font-size="11" fill="#4d4d4d" text-anchor="end">0</text>
<line x1="281.7" y1="426.1" x2="281.7" y2="429.3" stroke="#333" stroke-width="1.07"/>
<text x="281.7" y="440.6" font-size="11" fill="#4d4d4d" text-anchor="middle">0</text>
<line x1="311.7" y1="426.1" x2="311.7" y2="429.3" stroke="#333" stroke-width="1.07"/>
<text x="311.7" y="440.6" font-size="11" fill="#4d4d4d" text-anchor="middle">2</text>
<line x1="341.7" y1="426.1" x2="341.7" y2="429.3" stroke="#333" stroke-width="1.07"/>
<text x="341.7" y="440.6" font-size="11" fill="#4d4d4d" text-anchor="middle">4</text>
<line x1="371.7" y1="426.1" x2="371.7" y2="429.3" stroke="#333" stroke-width="1.07"/>
<text x="371.7" y="440.6" font-size="11" fill="#4d4d4d" text-anchor="middle">6</text>
<text x="324.2" y="408.7" font-size="12.5" fill="#000" text-anchor="start">cor = 0.36</text>
<text x="324.2" y="420.3" font-size="12.5" fill="#000" text-anchor="start">pval = 0.012</text>
<circle cx="430.15" cy="388.2" r="2.8" fill="#000"/>
<circle cx="445.15" cy="375.5" r="2.8" fill="#000"/>
<circle cx="445.15" cy="388.2" r="2.8" fill="#000"/>
<circle cx="460.15" cy="316.5" r="2.8" fill="#000"/>
<circle cx="460.15" cy="388.2" r="2.8" fill="#000"/>
<circle cx="475.15" cy="268.6" r="2.8" fill="#000"/>
<circle cx="475.15" cy="311.9" r="2.8" fill="#000"/>
<circle cx="475.15" cy="328.1" r="2.8" fill="#000"/>
<circle cx="475.15" cy="375.5" r="2.8" fill="#000"/>
<circle cx="475.15" cy="388.2" r="2.8" fill="#000"/>
<circle cx="490.15" cy="267.1" r="2.8" fill="#000"/>
<circle cx="490.15" cy="283.3" r="2.8" fill="#000"/>
<circle cx="490.15" cy="308.4" r="2.8" fill="#000"/>
<circle cx="490.15" cy="388.2" r="2.8" fill="#000"/>
<circle cx="505.15" cy="388.2" r="2.8" fill="#000"/>
<circle cx="535.15" cy="311.9" r="2.8" fill="#000"/>
<path d="M429.95 382 L432.57 381 L435.2 379.97 L437.82 378.93 L440.45 377.85 L443.07 376.73 L445.7 375.58 L448.32 374.36 L450.95 373.08 L453.57 371.72 L456.2 370.26 L458.82 368.68 L461.45 366.96 L464.07 365.09 L466.7 363.06 L469.32 360.87 L471.95 358.52 L474.57 356.04 L477.2 353.43 L479.82 350.73 L482.45 347.94 L485.07 345.09 L487.7 342.18 L490.32 339.22 L492.95 336.23 L495.57 333.21 L498.2 330.17 L500.82 327.1 L503.45 324.02 L506.07 320.92 L508.7 317.81 L511.32 314.69 L513.95 311.56 L516.58 308.42 L519.2 305.27 L521.83 302.12 L524.45 298.97 L527.08 295.81 L529.7 292.64 L532.33 289.47 L534.95 286.3 L534.95 351.1 L532.33 352 L529.7 352.9 L527.08 353.8 L524.45 354.71 L521.83 355.63 L519.2 356.55 L516.58 357.47 L513.95 358.4 L511.32 359.34 L508.7 360.29 L506.07 361.25 L503.45 362.22 L500.82 363.21 L498.2 364.21 L495.57 365.24 L492.95 366.29 L490.32 367.37 L487.7 368.48 L485.07 369.64 L482.45 370.86 L479.82 372.14 L477.2 373.51 L474.57 374.97 L471.95 376.56 L469.32 378.28 L466.7 380.16 L464.07 382.2 L461.45 384.4 L458.82 386.75 L456.2 389.24 L453.57 391.85 L450.95 394.56 L448.32 397.35 L445.7 400.2 L443.07 403.12 L440.45 406.07 L437.82 409.06 L435.2 412.09 L432.57 415.13 L429.95 418.2 Z" fill="#999999" fill-opacity="0.4"/>
<line x1="429.95" y1="400.1" x2="534.95" y2="318.7" stroke="#3366FF" stroke-width="2.6"/>
<path d="M424.9 259.1 L424.9 426.2 L540.2 426.2" fill="none" stroke="#000" stroke-width="1.4" stroke-linejoin="round"/>
<rect x="424.9" y="237.4" width="115.3" height="21.2" fill="#d9d9d9" stroke="#333" stroke-width="1.07"/>
<text x="482.55" y="252.9" font-size="11.2" fill="#1a1a1a" text-anchor="middle">IL-3</text>
<line x1="421.5" y1="291.6" x2="424.9" y2="291.6" stroke="#333" stroke-width="1.07"/>
<text x="418.7" y="296" font-size="11" fill="#4d4d4d" text-anchor="end">0.0</text>
<line x1="421.5" y1="337.1" x2="424.9" y2="337.1" stroke="#333" stroke-width="1.07"/>
<text x="418.7" y="341.5" font-size="11" fill="#4d4d4d" text-anchor="end">−2.5</text>
<line x1="421.5" y1="382.6" x2="424.9" y2="382.6" stroke="#333" stroke-width="1.07"/>
<text x="418.7" y="387" font-size="11" fill="#4d4d4d" text-anchor="end">−5.0</text>
<line x1="429.95" y1="426.2" x2="429.95" y2="429.4" stroke="#333" stroke-width="1.07"/>
<text x="429.95" y="440.6" font-size="11" fill="#4d4d4d" text-anchor="middle">0</text>
<line x1="459.95" y1="426.2" x2="459.95" y2="429.4" stroke="#333" stroke-width="1.07"/>
<text x="459.95" y="440.6" font-size="11" fill="#4d4d4d" text-anchor="middle">2</text>
<line x1="489.95" y1="426.2" x2="489.95" y2="429.4" stroke="#333" stroke-width="1.07"/>
<text x="489.95" y="440.6" font-size="11" fill="#4d4d4d" text-anchor="middle">4</text>
<line x1="519.95" y1="426.2" x2="519.95" y2="429.4" stroke="#333" stroke-width="1.07"/>
<text x="519.95" y="440.6" font-size="11" fill="#4d4d4d" text-anchor="middle">6</text>
<text x="472.4" y="408.7" font-size="12.5" fill="#000" text-anchor="start">cor = 0.41</text>
<text x="472.4" y="420.5" font-size="12.5" fill="#000" text-anchor="start">pval = 0.004</text>
<circle cx="574.85" cy="383.8" r="2.8" fill="#000"/>
<circle cx="589.85" cy="364.3" r="2.8" fill="#000"/>
<circle cx="589.85" cy="372.5" r="2.8" fill="#000"/>
<circle cx="589.85" cy="375.8" r="2.8" fill="#000"/>
<circle cx="589.85" cy="380.5" r="2.8" fill="#000"/>
<circle cx="589.85" cy="384.5" r="2.8" fill="#000"/>
<circle cx="589.85" cy="403.7" r="2.8" fill="#000"/>
<circle cx="589.85" cy="418.9" r="2.8" fill="#000"/>
<circle cx="604.85" cy="344.4" r="2.8" fill="#000"/>
<circle cx="604.85" cy="355.1" r="2.8" fill="#000"/>
<circle cx="604.85" cy="363.8" r="2.8" fill="#000"/>
<circle cx="604.85" cy="366.3" r="2.8" fill="#000"/>
<circle cx="604.85" cy="368.8" r="2.8" fill="#000"/>
<circle cx="604.85" cy="375.8" r="2.8" fill="#000"/>
<circle cx="604.85" cy="383.3" r="2.8" fill="#000"/>
<circle cx="604.85" cy="384.5" r="2.8" fill="#000"/>
<circle cx="619.85" cy="339.7" r="2.8" fill="#000"/>
<circle cx="619.85" cy="340.7" r="2.8" fill="#000"/>
<circle cx="619.85" cy="352.1" r="2.8" fill="#000"/>
<circle cx="619.85" cy="357.6" r="2.8" fill="#000"/>
<circle cx="619.85" cy="360.1" r="2.8" fill="#000"/>
<circle cx="619.85" cy="372.5" r="2.8" fill="#000"/>
<circle cx="634.85" cy="267.1" r="2.8" fill="#000"/>
<circle cx="634.85" cy="364.6" r="2.8" fill="#000"/>
<circle cx="634.85" cy="379.5" r="2.8" fill="#000"/>
<circle cx="634.85" cy="391.7" r="2.8" fill="#000"/>
<circle cx="634.85" cy="401.9" r="2.8" fill="#000"/>
<circle cx="649.85" cy="364.6" r="2.8" fill="#000"/>
<circle cx="679.85" cy="357.6" r="2.8" fill="#000"/>
<path d="M574.65 366 L577.27 365.86 L579.9 365.7 L582.52 365.53 L585.15 365.34 L587.77 365.12 L590.4 364.88 L593.02 364.6 L595.65 364.27 L598.27 363.89 L600.9 363.44 L603.52 362.91 L606.15 362.29 L608.77 361.57 L611.4 360.75 L614.02 359.82 L616.65 358.8 L619.27 357.68 L621.9 356.5 L624.52 355.25 L627.15 353.94 L629.77 352.6 L632.4 351.22 L635.02 349.81 L637.65 348.38 L640.27 346.94 L642.9 345.47 L645.52 343.99 L648.15 342.51 L650.77 341.01 L653.4 339.5 L656.02 337.99 L658.65 336.48 L661.27 334.95 L663.9 333.43 L666.52 331.9 L669.15 330.36 L671.77 328.83 L674.4 327.29 L677.02 325.74 L679.65 324.2 L679.65 366.4 L677.02 366.47 L674.4 366.54 L671.77 366.62 L669.15 366.7 L666.52 366.78 L663.9 366.86 L661.27 366.95 L658.65 367.04 L656.02 367.14 L653.4 367.25 L650.77 367.36 L648.15 367.47 L645.52 367.6 L642.9 367.74 L640.27 367.89 L637.65 368.06 L635.02 368.24 L632.4 368.45 L629.77 368.68 L627.15 368.96 L624.52 369.27 L621.9 369.63 L619.27 370.06 L616.65 370.56 L614.02 371.15 L611.4 371.84 L608.77 372.63 L606.15 373.53 L603.52 374.53 L600.9 375.61 L598.27 376.78 L595.65 378.01 L593.02 379.3 L590.4 380.63 L587.77 382 L585.15 383.4 L582.52 384.82 L579.9 386.27 L577.27 387.73 L574.65 389.2 Z" fill="#999999" fill-opacity="0.4"/>
<line x1="574.65" y1="377.6" x2="679.65" y2="345.3" stroke="#3366FF" stroke-width="2.6"/>
<path d="M569.6 259.1 L569.6 426.1 L684.6 426.1" fill="none" stroke="#000" stroke-width="1.4" stroke-linejoin="round"/>
<rect x="569.6" y="237.4" width="115" height="21.2" fill="#d9d9d9" stroke="#333" stroke-width="1.07"/>
<text x="627.1" y="252.9" font-size="11.2" fill="#1a1a1a" text-anchor="middle">IL-22</text>
<line x1="566.2" y1="306.9" x2="569.6" y2="306.9" stroke="#333" stroke-width="1.07"/>
<text x="563.4" y="311.3" font-size="11" fill="#4d4d4d" text-anchor="end">6</text>
<line x1="566.2" y1="365.4" x2="569.6" y2="365.4" stroke="#333" stroke-width="1.07"/>
<text x="563.4" y="369.8" font-size="11" fill="#4d4d4d" text-anchor="end">4</text>
<line x1="566.2" y1="423.9" x2="569.6" y2="423.9" stroke="#333" stroke-width="1.07"/>
<text x="563.4" y="428.3" font-size="11" fill="#4d4d4d" text-anchor="end">2</text>
<line x1="574.65" y1="426.1" x2="574.65" y2="429.3" stroke="#333" stroke-width="1.07"/>
<text x="574.65" y="440.6" font-size="11" fill="#4d4d4d" text-anchor="middle">0</text>
<line x1="604.65" y1="426.1" x2="604.65" y2="429.3" stroke="#333" stroke-width="1.07"/>
<text x="604.65" y="440.6" font-size="11" fill="#4d4d4d" text-anchor="middle">2</text>
<line x1="634.65" y1="426.1" x2="634.65" y2="429.3" stroke="#333" stroke-width="1.07"/>
<text x="634.65" y="440.6" font-size="11" fill="#4d4d4d" text-anchor="middle">4</text>
<line x1="664.65" y1="426.1" x2="664.65" y2="429.3" stroke="#333" stroke-width="1.07"/>
<text x="664.65" y="440.6" font-size="11" fill="#4d4d4d" text-anchor="middle">6</text>
<text x="572.5" y="271.5" font-size="12.5" fill="#000" text-anchor="start">cor = 0.40</text>
<text x="572.5" y="283.5" font-size="12.5" fill="#000" text-anchor="start">pval = 0.005</text>
<text x="480.7" y="456.8" font-size="13.75" fill="#000" text-anchor="middle">Comorbidities</text>
<text x="258.4" y="140.9" font-size="13.75" fill="#000" text-anchor="middle" transform="rotate(-90 258.4 140.9)">pg/ml</text>
<text x="258.4" y="342.9" font-size="13.75" fill="#000" text-anchor="middle" transform="rotate(-90 258.4 342.9)">pg/ml</text>
<rect x="28.6" y="398.2" width="12.52" height="12.53" fill="#FEF0A9" stroke="#a6a6a6" stroke-width="0.9"/>
<rect x="41.12" y="398.2" width="12.52" height="12.53" fill="#FFFFFF" stroke="#a6a6a6" stroke-width="0.9"/>
<rect x="53.64" y="398.2" width="12.52" height="12.53" fill="#FEE89C" stroke="#a6a6a6" stroke-width="0.9"/>
<rect x="66.16" y="398.2" width="12.52" height="12.53" fill="#FFFFFF" stroke="#a6a6a6" stroke-width="0.9"/>
<rect x="28.6" y="410.73" width="12.52" height="12.53" fill="#FEF0A9" stroke="#a6a6a6" stroke-width="0.9"/>
<rect x="41.12" y="410.73" width="12.52" height="12.53" fill="#FFFFFF" stroke="#a6a6a6" stroke-width="0.9"/>
<rect x="53.64" y="410.73" width="12.52" height="12.53" fill="#FEF0A9" stroke="#a6a6a6" stroke-width="0.9"/>
<rect x="66.16" y="410.73" width="12.52" height="12.53" fill="#FFFFFF" stroke="#a6a6a6" stroke-width="0.9"/>
<rect x="28.6" y="423.26" width="12.52" height="12.53" fill="#FEF0A9" stroke="#a6a6a6" stroke-width="0.9"/>
<rect x="41.12" y="423.26" width="12.52" height="12.53" fill="#FFFFFF" stroke="#a6a6a6" stroke-width="0.9"/>
<rect x="53.64" y="423.26" width="12.52" height="12.53" fill="#FEF0A9" stroke="#a6a6a6" stroke-width="0.9"/>
<rect x="66.16" y="423.26" width="12.52" height="12.53" fill="#FFFFFF" stroke="#a6a6a6" stroke-width="0.9"/>
<rect x="28.6" y="435.79" width="12.52" height="12.53" fill="#FEF0A9" stroke="#a6a6a6" stroke-width="0.9"/>
<rect x="41.12" y="435.79" width="12.52" height="12.53" fill="#FFFFFF" stroke="#a6a6a6" stroke-width="0.9"/>
<rect x="53.64" y="435.79" width="12.52" height="12.53" fill="#FEF0A9" stroke="#a6a6a6" stroke-width="0.9"/>
<rect x="66.16" y="435.79" width="12.52" height="12.53" fill="#FFFFFF" stroke="#a6a6a6" stroke-width="0.9"/>
<rect x="28.6" y="448.32" width="12.52" height="12.53" fill="#FEF0A9" stroke="#a6a6a6" stroke-width="0.9"/>
<rect x="41.12" y="448.32" width="12.52" height="12.53" fill="#FFFFFF" stroke="#a6a6a6" stroke-width="0.9"/>
<rect x="53.64" y="448.32" width="12.52" height="12.53" fill="#FEF0A9" stroke="#a6a6a6" stroke-width="0.9"/>
<rect x="66.16" y="448.32" width="12.52" height="12.53" fill="#FFFFFF" stroke="#a6a6a6" stroke-width="0.9"/>
<rect x="28.6" y="460.85" width="12.52" height="12.53" fill="#FEF0A9" stroke="#a6a6a6" stroke-width="0.9"/>
<rect x="41.12" y="460.85" width="12.52" height="12.53" fill="#FFFFFF" stroke="#a6a6a6" stroke-width="0.9"/>
<rect x="53.64" y="460.85" width="12.52" height="12.53" fill="#FEF0A9" stroke="#a6a6a6" stroke-width="0.9"/>
<rect x="66.16" y="460.85" width="12.52" height="12.53" fill="#FFFFFF" stroke="#a6a6a6" stroke-width="0.9"/>
<rect x="28.6" y="473.38" width="12.52" height="12.53" fill="#FEF0A9" stroke="#a6a6a6" stroke-width="0.9"/>
<rect x="41.12" y="473.38" width="12.52" height="12.53" fill="#FFFFFF" stroke="#a6a6a6" stroke-width="0.9"/>
<rect x="53.64" y="473.38" width="12.52" height="12.53" fill="#FEF0A9" stroke="#a6a6a6" stroke-width="0.9"/>
<rect x="66.16" y="473.38" width="12.52" height="12.53" fill="#FEE89C" stroke="#a6a6a6" stroke-width="0.9"/>
<rect x="28.6" y="485.91" width="12.52" height="12.53" fill="#A80029" stroke="#a6a6a6" stroke-width="0.9"/>
<rect x="41.12" y="485.91" width="12.52" height="12.53" fill="#FFFFFF" stroke="#a6a6a6" stroke-width="0.9"/>
<rect x="53.64" y="485.91" width="12.52" height="12.53" fill="#FEF0A9" stroke="#a6a6a6" stroke-width="0.9"/>
<rect x="66.16" y="485.91" width="12.52" height="12.53" fill="#FFFFFF" stroke="#a6a6a6" stroke-width="0.9"/>
<rect x="28.6" y="498.44" width="12.52" height="12.53" fill="#FEF0A9" stroke="#a6a6a6" stroke-width="0.9"/>
<rect x="41.12" y="498.44" width="12.52" height="12.53" fill="#FDB466" stroke="#a6a6a6" stroke-width="0.9"/>
<rect x="53.64" y="498.44" width="12.52" height="12.53" fill="#FEF0A9" stroke="#a6a6a6" stroke-width="0.9"/>
<rect x="66.16" y="498.44" width="12.52" height="12.53" fill="#FEE89C" stroke="#a6a6a6" stroke-width="0.9"/>
<rect x="28.6" y="510.97" width="12.52" height="12.53" fill="#FEF0A9" stroke="#a6a6a6" stroke-width="0.9"/>
<rect x="41.12" y="510.97" width="12.52" height="12.53" fill="#FFFFFF" stroke="#a6a6a6" stroke-width="0.9"/>
<rect x="53.64" y="510.97" width="12.52" height="12.53" fill="#FEF0A9" stroke="#a6a6a6" stroke-width="0.9"/>
<rect x="66.16" y="510.97" width="12.52" height="12.53" fill="#FFFFFF" stroke="#a6a6a6" stroke-width="0.9"/>
<rect x="28.6" y="523.5" width="12.52" height="12.53" fill="#FEF0A9" stroke="#a6a6a6" stroke-width="0.9"/>
<rect x="41.12" y="523.5" width="12.52" height="12.53" fill="#FFFFFF" stroke="#a6a6a6" stroke-width="0.9"/>
<rect x="53.64" y="523.5" width="12.52" height="12.53" fill="#FEF0A9" stroke="#a6a6a6" stroke-width="0.9"/>
<rect x="66.16" y="523.5" width="12.52" height="12.53" fill="#FFFFFF" stroke="#a6a6a6" stroke-width="0.9"/>
<rect x="28.6" y="536.03" width="12.52" height="12.53" fill="#FEF0A9" stroke="#a6a6a6" stroke-width="0.9"/>
<rect x="41.12" y="536.03" width="12.52" height="12.53" fill="#FFFFFF" stroke="#a6a6a6" stroke-width="0.9"/>
<rect x="53.64" y="536.03" width="12.52" height="12.53" fill="#FEF0A9" stroke="#a6a6a6" stroke-width="0.9"/>
<rect x="66.16" y="536.03" width="12.52" height="12.53" fill="#FFFFFF" stroke="#a6a6a6" stroke-width="0.9"/>
<rect x="28.6" y="548.56" width="12.52" height="12.53" fill="#FEF0A9" stroke="#a6a6a6" stroke-width="0.9"/>
<rect x="41.12" y="548.56" width="12.52" height="12.53" fill="#FFFFFF" stroke="#a6a6a6" stroke-width="0.9"/>
<rect x="53.64" y="548.56" width="12.52" height="12.53" fill="#FEF0A9" stroke="#a6a6a6" stroke-width="0.9"/>
<rect x="66.16" y="548.56" width="12.52" height="12.53" fill="#FFFFFF" stroke="#a6a6a6" stroke-width="0.9"/>
<text x="84.2" y="408.76" font-size="12.5" fill="#000" text-anchor="start">w/o Diabetic med [13/21]</text>
<text x="84.2" y="421.29" font-size="12.5" fill="#000" text-anchor="start">Complex multimorbidity [15/33]</text>
<text x="84.2" y="433.82" font-size="12.5" fill="#000" text-anchor="start">w/o Renal disease [14/32]</text>
<text x="84.2" y="446.35" font-size="12.5" fill="#000" text-anchor="start">w/o Obese [14/25]</text>
<text x="84.2" y="458.88" font-size="12.5" fill="#000" text-anchor="start">w/o Hypertension [14/31]</text>
<text x="84.2" y="471.41" font-size="12.5" fill="#000" text-anchor="start">w/o Heart failure [14/32]</text>
<text x="84.2" y="483.94" font-size="12.5" fill="#000" text-anchor="start">w/o Extr. arteriopathy</text>
<text x="84.2" y="496.47" font-size="12.5" fill="#000" text-anchor="start">w/o Diabetes [12/13]</text>
<text x="84.2" y="509" font-size="12.5" fill="#000" text-anchor="start">w/o Stroke [13/30]</text>
<text x="84.2" y="521.53" font-size="12.5" fill="#000" text-anchor="start">w/o COPD [14/27]</text>
<text x="84.2" y="534.06" font-size="12.5" fill="#000" text-anchor="start">w/o Asthma [14/33]</text>
<text x="84.2" y="546.59" font-size="12.5" fill="#000" text-anchor="start">w/o Anaemia [12/19]</text>
<text x="84.2" y="559.12" font-size="12.5" fill="#000" text-anchor="start">Multimorbid [14/34]</text>
<text x="39.66" y="394.1" font-size="12.5" fill="#000" text-anchor="start" transform="rotate(-90 39.66 394.1)">Fractalkine</text>
<text x="52.18" y="394.1" font-size="12.5" fill="#000" text-anchor="start" transform="rotate(-90 52.18 394.1)">IFNγ</text>
<text x="64.7" y="394.1" font-size="12.5" fill="#000" text-anchor="start" transform="rotate(-90 64.7 394.1)">IL-22</text>
<text x="77.22" y="394.1" font-size="12.5" fill="#000" text-anchor="start" transform="rotate(-90 77.22 394.1)">IL-13</text>
<rect x="228.8" y="512.85" width="3.35" height="12.2" fill="#B21B34" stroke="none" stroke-width="1"/>
<rect x="231.16" y="512.85" width="3.36" height="12.2" fill="#B71E32" stroke="none" stroke-width="1"/>
<rect x="233.51" y="512.85" width="3.35" height="12.2" fill="#BC2131" stroke="none" stroke-width="1"/>
<rect x="235.87" y="512.85" width="3.35" height="12.2" fill="#C1242F" stroke="none" stroke-width="1"/>
<rect x="238.22" y="512.85" width="3.36" height="12.2" fill="#C6262D" stroke="none" stroke-width="1"/>
<rect x="240.58" y="512.85" width="3.35" height="12.2" fill="#CB292B" stroke="none" stroke-width="1"/>
<rect x="242.93" y="512.85" width="3.35" height="12.2" fill="#D02C2A" stroke="none" stroke-width="1"/>
<rect x="245.28" y="512.85" width="3.36" height="12.2" fill="#D52F28" stroke="none" stroke-width="1"/>
<rect x="247.64" y="512.85" width="3.35" height="12.2" fill="#D93429" stroke="none" stroke-width="1"/>
<rect x="250" y="512.85" width="3.36" height="12.2" fill="#DC3B2C" stroke="none" stroke-width="1"/>
<rect x="252.35" y="512.85" width="3.35" height="12.2" fill="#E04330" stroke="none" stroke-width="1"/>
<rect x="254.71" y="512.85" width="3.35" height="12.2" fill="#E44B33" stroke="none" stroke-width="1"/>
<rect x="257.06" y="512.85" width="3.36" height="12.2" fill="#E75237" stroke="none" stroke-width="1"/>
<rect x="259.42" y="512.85" width="3.35" height="12.2" fill="#EB5A3A" stroke="none" stroke-width="1"/>
<rect x="261.77" y="512.85" width="3.36" height="12.2" fill="#EF623E" stroke="none" stroke-width="1"/>
<rect x="264.12" y="512.85" width="3.36" height="12.2" fill="#F26941" stroke="none" stroke-width="1"/>
<rect x="266.48" y="512.85" width="3.36" height="12.2" fill="#F57145" stroke="none" stroke-width="1"/>
<rect x="268.84" y="512.85" width="3.35" height="12.2" fill="#F67949" stroke="none" stroke-width="1"/>
<rect x="271.19" y="512.85" width="3.36" height="12.2" fill="#F7814C" stroke="none" stroke-width="1"/>
<rect x="273.55" y="512.85" width="3.35" height="12.2" fill="#F88950" stroke="none" stroke-width="1"/>
<rect x="275.9" y="512.85" width="3.36" height="12.2" fill="#F99254" stroke="none" stroke-width="1"/>
<rect x="278.25" y="512.85" width="3.36" height="12.2" fill="#FA9A58" stroke="none" stroke-width="1"/>
<rect x="280.61" y="512.85" width="3.36" height="12.2" fill="#FBA25B" stroke="none" stroke-width="1"/>
<rect x="282.97" y="512.85" width="3.35" height="12.2" fill="#FCAA5F" stroke="none" stroke-width="1"/>
<rect x="285.32" y="512.85" width="3.36" height="12.2" fill="#FDB164" stroke="none" stroke-width="1"/>
<rect x="287.68" y="512.85" width="3.36" height="12.2" fill="#FDB76A" stroke="none" stroke-width="1"/>
<rect x="290.03" y="512.85" width="3.35" height="12.2" fill="#FDBE70" stroke="none" stroke-width="1"/>
<rect x="292.38" y="512.85" width="3.36" height="12.2" fill="#FDC476" stroke="none" stroke-width="1"/>
<rect x="294.74" y="512.85" width="3.36" height="12.2" fill="#FECA7B" stroke="none" stroke-width="1"/>
<rect x="297.1" y="512.85" width="3.35" height="12.2" fill="#FED081" stroke="none" stroke-width="1"/>
<rect x="299.45" y="512.85" width="3.36" height="12.2" fill="#FED787" stroke="none" stroke-width="1"/>
<rect x="301.81" y="512.85" width="3.35" height="12.2" fill="#FEDD8D" stroke="none" stroke-width="1"/>
<rect x="304.16" y="512.85" width="3.36" height="12.2" fill="#FEE293" stroke="none" stroke-width="1"/>
<rect x="306.51" y="512.85" width="3.36" height="12.2" fill="#FEE699" stroke="none" stroke-width="1"/>
<rect x="308.87" y="512.85" width="3.36" height="12.2" fill="#FEEA9F" stroke="none" stroke-width="1"/>
<rect x="311.23" y="512.85" width="3.36" height="12.2" fill="#FEEEA5" stroke="none" stroke-width="1"/>
<rect x="313.58" y="512.85" width="3.35" height="12.2" fill="#FFF1AA" stroke="none" stroke-width="1"/>
<rect x="315.94" y="512.85" width="3.35" height="12.2" fill="#FFF5B0" stroke="none" stroke-width="1"/>
<rect x="318.29" y="512.85" width="3.36" height="12.2" fill="#FFF9B6" stroke="none" stroke-width="1"/>
<rect x="320.64" y="512.85" width="3.36" height="12.2" fill="#FFFDBC" stroke="none" stroke-width="1"/>
<rect x="323" y="512.85" width="3.36" height="12.2" fill="#FDFEC3" stroke="none" stroke-width="1"/>
<rect x="325.36" y="512.85" width="3.36" height="12.2" fill="#F9FDCA" stroke="none" stroke-width="1"/>
<rect x="327.71" y="512.85" width="3.35" height="12.2" fill="#F5FBD1" stroke="none" stroke-width="1"/>
<rect x="330.06" y="512.85" width="3.35" height="12.2" fill="#F1FAD8" stroke="none" stroke-width="1"/>
<rect x="332.42" y="512.85" width="3.36" height="12.2" fill="#EEF8DF" stroke="none" stroke-width="1"/>
<rect x="334.77" y="512.85" width="3.36" height="12.2" fill="#EAF7E6" stroke="none" stroke-width="1"/>
<rect x="337.13" y="512.85" width="3.36" height="12.2" fill="#E6F5ED" stroke="none" stroke-width="1"/>
<rect x="339.49" y="512.85" width="3.36" height="12.2" fill="#E2F4F4" stroke="none" stroke-width="1"/>
<rect x="341.84" y="512.85" width="3.35" height="12.2" fill="#DDF1F7" stroke="none" stroke-width="1"/>
<rect x="344.19" y="512.85" width="3.35" height="12.2" fill="#D6EEF5" stroke="none" stroke-width="1"/>
<rect x="346.55" y="512.85" width="3.36" height="12.2" fill="#CFEBF3" stroke="none" stroke-width="1"/>
<rect x="348.9" y="512.85" width="3.36" height="12.2" fill="#C9E8F1" stroke="none" stroke-width="1"/>
<rect x="351.26" y="512.85" width="3.36" height="12.2" fill="#C2E4F0" stroke="none" stroke-width="1"/>
<rect x="353.62" y="512.85" width="3.36" height="12.2" fill="#BCE1EE" stroke="none" stroke-width="1"/>
<rect x="355.97" y="512.85" width="3.35" height="12.2" fill="#B5DEEC" stroke="none" stroke-width="1"/>
<rect x="358.32" y="512.85" width="3.35" height="12.2" fill="#AEDBEA" stroke="none" stroke-width="1"/>
<rect x="360.68" y="512.85" width="3.36" height="12.2" fill="#A8D6E7" stroke="none" stroke-width="1"/>
<rect x="363.03" y="512.85" width="3.36" height="12.2" fill="#A1D1E4" stroke="none" stroke-width="1"/>
<rect x="365.39" y="512.85" width="3.36" height="12.2" fill="#9ACBE2" stroke="none" stroke-width="1"/>
<rect x="367.75" y="512.85" width="3.36" height="12.2" fill="#93C6DE" stroke="none" stroke-width="1"/>
<rect x="370.1" y="512.85" width="3.35" height="12.2" fill="#8CC0DC" stroke="none" stroke-width="1"/>
<rect x="372.45" y="512.85" width="3.36" height="12.2" fill="#85BBD8" stroke="none" stroke-width="1"/>
<rect x="374.81" y="512.85" width="3.35" height="12.2" fill="#7EB5D6" stroke="none" stroke-width="1"/>
<rect x="377.16" y="512.85" width="3.36" height="12.2" fill="#77B0D3" stroke="none" stroke-width="1"/>
<rect x="379.52" y="512.85" width="3.36" height="12.2" fill="#71AACF" stroke="none" stroke-width="1"/>
<rect x="381.88" y="512.85" width="3.36" height="12.2" fill="#6BA3CC" stroke="none" stroke-width="1"/>
<rect x="384.23" y="512.85" width="3.36" height="12.2" fill="#659CC8" stroke="none" stroke-width="1"/>
<rect x="386.59" y="512.85" width="3.35" height="12.2" fill="#5F95C4" stroke="none" stroke-width="1"/>
<rect x="388.94" y="512.85" width="3.35" height="12.2" fill="#5A8EC1" stroke="none" stroke-width="1"/>
<rect x="391.29" y="512.85" width="3.36" height="12.2" fill="#5486BD" stroke="none" stroke-width="1"/>
<rect x="393.65" y="512.85" width="3.36" height="12.2" fill="#4E80B9" stroke="none" stroke-width="1"/>
<rect x="396" y="512.85" width="3.36" height="12.2" fill="#4878B6" stroke="none" stroke-width="1"/>
<rect x="398.36" y="512.85" width="3.36" height="12.2" fill="#4472B3" stroke="none" stroke-width="1"/>
<rect x="400.72" y="512.85" width="3.35" height="12.2" fill="#436CB0" stroke="none" stroke-width="1"/>
<rect x="403.07" y="512.85" width="3.35" height="12.2" fill="#4266AD" stroke="none" stroke-width="1"/>
<rect x="405.42" y="512.85" width="3.36" height="12.2" fill="#4060AA" stroke="none" stroke-width="1"/>
<rect x="407.78" y="512.85" width="3.36" height="12.2" fill="#3F5AA7" stroke="none" stroke-width="1"/>
<rect x="410.13" y="512.85" width="3.36" height="12.2" fill="#3D54A4" stroke="none" stroke-width="1"/>
<rect x="412.49" y="512.85" width="3.36" height="12.2" fill="#3C4EA1" stroke="none" stroke-width="1"/>
<rect x="414.85" y="512.85" width="2.35" height="12.2" fill="#3B489E" stroke="none" stroke-width="1"/>
<text x="275.4" y="508.6" font-size="12.5" fill="#000" text-anchor="middle">2</text>
<text x="322.9" y="508.6" font-size="12.5" fill="#000" text-anchor="middle">0</text>
<text x="370.7" y="508.6" font-size="12.5" fill="#000" text-anchor="middle">−2</text>
<text x="322.9" y="538.9" font-size="12.5" fill="#000" text-anchor="middle">log Fold change</text>
</svg>
</body></html>
